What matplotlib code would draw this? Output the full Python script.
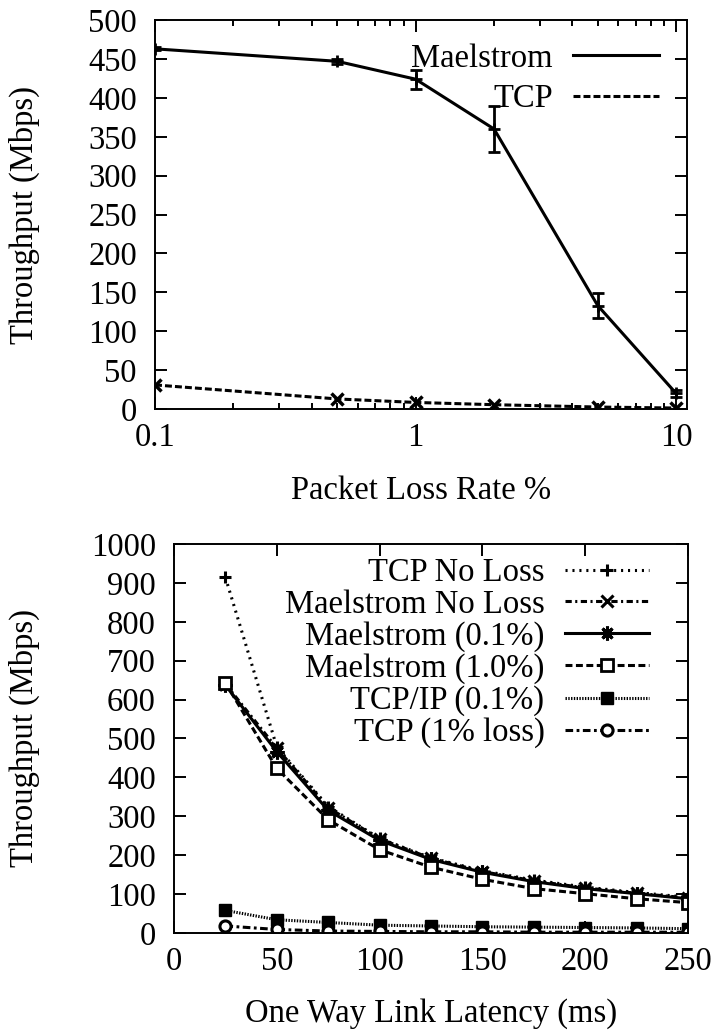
import numpy as np
import matplotlib
matplotlib.use("Agg")
import matplotlib.pyplot as plt
from matplotlib.lines import Line2D
from matplotlib.ticker import NullFormatter

plt.rcParams['font.family'] = ['Liberation Serif', 'DejaVu Serif']
plt.rcParams['font.size'] = 23.5
plt.rcParams['lines.scale_dashes'] = False
plt.rcParams['axes.linewidth'] = 1.4

# packet loss sweep
loss_rate = [0.1, 0.5, 1, 2, 5, 10]
maelstrom_tput = [463, 447, 424, 360, 133, 20]
maelstrom_err = [2, 3, 12, 29, 16, 5]
tcp_tput = [31, 13, 8.5, 5.6, 2.6, 1.3]

# latency sweep
latency = [25, 50, 75, 100, 125, 150, 175, 200, 225, 250]
tcp_noloss = [914, 478, 325, 243, 193, 160, 136, 118, 104, 92]
mael_noloss = [640, 475, 322, 242, 192, 158, 134, 116, 102, 90]
mael_01 = [637, 466, 315, 238, 189, 156, 132, 114, 101, 88]
mael_10 = [643, 423, 291, 214, 169, 138, 114, 101, 88, 78]
tcpip_01 = [58, 34, 27, 20, 18, 16, 15, 14, 13, 11]
tcp_1loss = [18, 9, 5, 4, 3, 3, 2, 2, 2, 2]

fig = plt.figure(figsize=(7.15, 10.34), dpi=100)
ax1 = fig.add_axes([0.2168, 0.6044, 0.744, 0.3762])
ax2 = fig.add_axes([0.2434, 0.0977, 0.7189, 0.3762])

def style_axis(ax):
    ax.tick_params(which='both', direction='in', top=True, right=True, width=1.4)
    ax.tick_params(which='major', length=8.5)
    ax.tick_params(which='minor', length=4.5)
    ax.tick_params(axis='x', pad=10)
    ax.tick_params(axis='y', pad=13)

# --- throughput vs loss rate ---
ax1.errorbar(loss_rate, maelstrom_tput, yerr=maelstrom_err, fmt='none',
             ecolor='k', elinewidth=2, capsize=4.3, capthick=2)
ax1.plot(loss_rate, maelstrom_tput, color='k', lw=2.2, marker='+', ms=8, mew=2)
ax1.plot(loss_rate, tcp_tput, color='k', lw=2.2, ls=(0, (5, 2.2)),
         marker='x', ms=8, mew=2.5)
ax1.set_xscale('log')
ax1.set_xlim(0.1, 11)
ax1.set_ylim(0, 500)
ax1.set_xticks([0.1, 1, 10], labels=['0.1', '1', '10'])
ax1.xaxis.set_minor_formatter(NullFormatter())
ax1.set_yticks(np.arange(0, 501, 50))
style_axis(ax1)
ax1.set_xlabel('Packet Loss Rate %')
ax1.set_ylabel('Throughput (Mbps)')
ax1.xaxis.set_label_coords(0.5, -0.172)
ax1.yaxis.set_label_coords(-0.216, 0.5)
h1 = [Line2D([], [], color='k', lw=2.2),
      Line2D([], [], color='k', lw=2.2, ls=(0, (5, 2.2)))]
ax1.legend(h1, ['Maelstrom', 'TCP'], loc='upper right',
           bbox_to_anchor=(0.948, 0.94), frameon=False, markerfirst=False,
           handlelength=2.65, handletextpad=0.62, labelspacing=0.3,
           borderpad=0, borderaxespad=0)

# --- throughput vs one way latency ---
series = [
    (tcp_noloss, 'TCP No Loss', dict(ls=(0, (1.5, 3.5)), marker='+', ms=9, mew=2.2, lw=2.2)),
    (mael_noloss, 'Maelstrom No Loss', dict(ls=(0, (4.5, 2.5, 1.5, 2.5)), marker='x', ms=8, mew=2.2, lw=2.2)),
    (mael_01, 'Maelstrom (0.1%)', dict(ls='-', marker=(8, 2, 0), ms=10, mew=2.2, lw=2.2)),
    (mael_10, 'Maelstrom (1.0%)', dict(ls=(0, (5, 2.5)), marker='s', ms=8.5, mew=2, mfc='white', lw=2.2)),
    (tcpip_01, 'TCP/IP (0.1%)', dict(ls=(0, (1, 1)), marker='s', ms=8.5, mew=1, lw=2.2)),
    (tcp_1loss, 'TCP (1% loss)', dict(ls=(0, (5.5, 2.5, 2, 2.5)), marker='o', ms=8, mew=2.2, mfc='white', lw=2.2)),
]
for vals, name, kw in series:
    ax2.plot(latency, vals, color='k', label=name, **kw)

ax2.set_xlim(0, 250)
ax2.set_ylim(0, 1000)
ax2.set_xticks(np.arange(0, 251, 50))
ax2.set_yticks(np.arange(0, 1001, 100))
style_axis(ax2)
ax2.set_xlabel('One Way Link Latency (ms)')
ax2.set_ylabel('Throughput (Mbps)')
ax2.xaxis.set_label_coords(0.5, -0.168)
ax2.yaxis.set_label_coords(-0.261, 0.5)
ax2.legend(loc='upper right', bbox_to_anchor=(0.925, 0.965), frameon=False,
           markerfirst=False, numpoints=1, handlelength=2.6, handletextpad=0.62,
           labelspacing=0.04, borderpad=0, borderaxespad=0)

fig.savefig('out.png', dpi=100)
